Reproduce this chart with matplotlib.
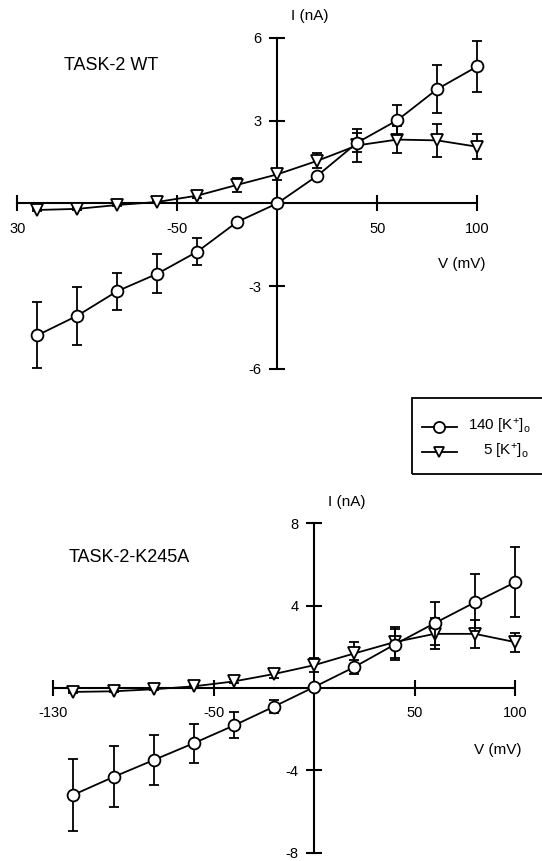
import matplotlib
matplotlib.use('Agg')
import matplotlib.pyplot as plt
from matplotlib.lines import Line2D
from matplotlib.patches import Rectangle

plt.rcParams['font.family'] = ['Liberation Sans', 'DejaVu Sans']
plt.rcParams['mathtext.fontset'] = 'custom'
plt.rcParams['mathtext.rm'] = 'Liberation Sans'
plt.rcParams['mathtext.it'] = 'Liberation Sans:italic'

# voltage steps (mV)
voltage = [-120, -100, -80, -60, -40, -20, 0, 20, 40, 60, 80, 100]

# TASK-2 WT, current (nA) and error
wt_140 = [-4.78, -4.07, -3.18, -2.55, -1.75, -0.67, 0.0, 1.0, 2.2, 3.01, 4.14, 4.96]
wt_140_err = [1.2, 1.05, 0.67, 0.7, 0.48, 0.1, 0.05, 0.1, 0.35, 0.55, 0.87, 0.93]
wt_5 = [-0.24, -0.2, -0.06, 0.05, 0.28, 0.67, 1.05, 1.54, 2.1, 2.31, 2.28, 2.05]
wt_5_err = [0.05, 0.05, 0.05, 0.05, 0.1, 0.25, 0.2, 0.27, 0.6, 0.5, 0.6, 0.45]

# TASK-2-K245A
mut_140 = [-5.19, -4.32, -3.5, -2.68, -1.82, -0.9, 0.05, 1.02, 2.11, 3.15, 4.16, 5.13]
mut_140_err = [1.75, 1.48, 1.23, 0.94, 0.63, 0.3, 0.1, 0.35, 0.75, 1.05, 1.39, 1.7]
mut_5 = [-0.19, -0.16, -0.06, 0.08, 0.32, 0.68, 1.11, 1.68, 2.23, 2.63, 2.63, 2.23]
mut_5_err = [0.05, 0.05, 0.05, 0.05, 0.1, 0.2, 0.35, 0.55, 0.75, 0.75, 0.67, 0.46]

x_ticks = [-130, -50, 50, 100]
wt_xlabels = ['30', '-50', '50', '100']
mut_xlabels = ['-130', '-50', '50', '100']
wt_yticks = [-6, -3, 3, 6]
mut_yticks = [-8, -4, 4, 8]

W, H = 542, 861
fig = plt.figure(figsize=(W / 100, H / 100), dpi=100)


def fx(px):
    return px / W


def fy(py):
    return 1 - py / H


def draw_panel(rect, ylim, yticks, xlabels, i140, e140, i5, e5):
    ax = fig.add_axes(rect)
    ax.set_xlim(-130, 100)
    ax.set_ylim(-ylim, ylim)
    for s in ['top', 'right']:
        ax.spines[s].set_visible(False)
    for s in ['left', 'bottom']:
        ax.spines[s].set_position(('data', 0))
        ax.spines[s].set_linewidth(1.5)
    ax.set_xticks(x_ticks)
    ax.set_xticklabels(xlabels)
    ax.set_yticks(yticks)
    ax.set_yticklabels([str(t) for t in yticks])
    ax.tick_params(direction='inout', length=11.5, width=1.5, labelsize=10.5)
    ax.tick_params(axis='x', pad=7.5)
    ax.tick_params(axis='y', pad=5.5)
    ax.patch.set_visible(False)
    ax.errorbar(voltage, i5, yerr=e5, color='black', lw=1.3, marker='v',
                ms=8, mfc='white', mec='black', mew=1.3, capsize=3.5,
                elinewidth=1.3, capthick=1.3, clip_on=False, zorder=3)
    ax.errorbar(voltage, i140, yerr=e140, color='black', lw=1.3, marker='o',
                ms=8.5, mfc='white', mec='black', mew=1.3, capsize=3.5,
                elinewidth=1.3, capthick=1.3, clip_on=False, zorder=4)
    return ax


draw_panel([fx(17.3), fy(369), fx(477.3) - fx(17.3), fy(37.7) - fy(369)],
           6, wt_yticks, wt_xlabels, wt_140, wt_140_err, wt_5, wt_5_err)
draw_panel([fx(53.3), fy(852.7), fx(515) - fx(53.3), fy(523.3) - fy(852.7)],
           8, mut_yticks, mut_xlabels, mut_140, mut_140_err, mut_5, mut_5_err)

# axis labels and panel titles
fig.text(fx(291), fy(16), 'I (nA)', fontsize=11, ha='left', va='center')
fig.text(fx(438), fy(264), 'V (mV)', fontsize=11, ha='left', va='center')
fig.text(fx(64), fy(65), 'TASK-2 WT', fontsize=13, ha='left', va='center')
fig.text(fx(328), fy(502), 'I (nA)', fontsize=11, ha='left', va='center')
fig.text(fx(474), fy(750), 'V (mV)', fontsize=11, ha='left', va='center')
fig.text(fx(69), fy(558), 'TASK-2-K245A', fontsize=13, ha='left', va='center')

# legend box, runs off the right edge
fig.add_artist(Rectangle((fx(412.3), fy(474.3)), fx(560) - fx(412.3),
                         fy(397.7) - fy(474.3), transform=fig.transFigure,
                         fill=False, lw=1.3, ec='black'))
legend_rows = [('o', fy(426.7), r'140 [K$^{+}$]$_{\rm o}$', fx(467.7)),
               ('v', fy(451.7), r'5 [K$^{+}$]$_{\rm o}$', fx(482.7))]
for mk, yy, label, tx in legend_rows:
    fig.add_artist(Line2D([fx(421.7), fx(457.3)], [yy, yy], transform=fig.transFigure,
                          color='black', lw=1.3))
    fig.add_artist(Line2D([fx(439.3)], [yy], transform=fig.transFigure, marker=mk,
                          ms=8 if mk == 'o' else 7.5, mfc='white', mec='black', mew=1.3))
    fig.text(tx, yy, label, fontsize=11, ha='left', va='center')

fig.savefig('out.png', dpi=100)
